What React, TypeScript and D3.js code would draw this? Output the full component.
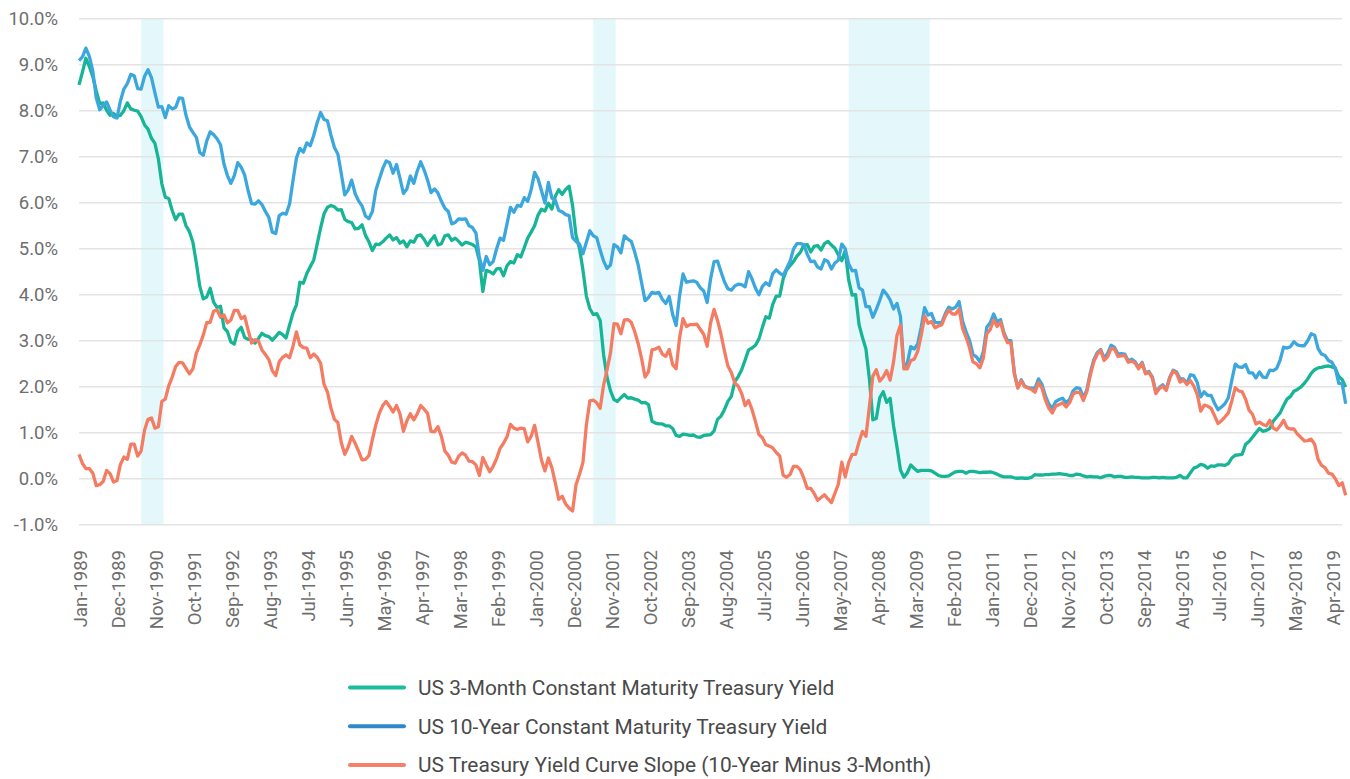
import React, { useRef, useEffect } from 'react';
import * as d3 from 'd3';

// Monthly averages, Jan-1989 .. Aug-2019
const threeMonthYield: number[] = [
    8.56, 8.84, 9.14, 8.96, 8.74, 8.43, 8.15, 8.17, 8.01, 7.90, 7.94, 7.88,
    7.90, 8.00, 8.17, 8.04, 8.01, 7.99, 7.87, 7.69, 7.60, 7.40, 7.29, 6.95,
    6.41, 6.12, 6.09, 5.83, 5.63, 5.75, 5.75, 5.50, 5.37, 5.14, 4.69, 4.18,
    3.91, 3.95, 4.14, 3.84, 3.72, 3.75, 3.28, 3.20, 2.97, 2.93, 3.21, 3.29,
    3.07, 3.03, 3.03, 2.95, 3.05, 3.16, 3.11, 3.09, 3.01, 3.09, 3.18, 3.13,
    3.06, 3.34, 3.60, 3.78, 4.27, 4.25, 4.46, 4.61, 4.75, 5.10, 5.45, 5.76,
    5.90, 5.94, 5.91, 5.84, 5.85, 5.64, 5.59, 5.57, 5.43, 5.44, 5.52, 5.29,
    5.15, 4.96, 5.10, 5.09, 5.15, 5.23, 5.30, 5.19, 5.24, 5.12, 5.17, 5.04,
    5.17, 5.14, 5.28, 5.30, 5.20, 5.07, 5.19, 5.28, 5.08, 5.11, 5.28, 5.30,
    5.18, 5.23, 5.16, 5.08, 5.14, 5.12, 5.09, 5.04, 4.74, 4.07, 4.53, 4.50,
    4.45, 4.56, 4.57, 4.41, 4.63, 4.72, 4.69, 4.87, 4.82, 5.02, 5.23, 5.36,
    5.50, 5.73, 5.86, 5.82, 5.99, 5.86, 6.14, 6.28, 6.18, 6.29, 6.36, 5.94,
    5.29, 5.01, 4.54, 3.97, 3.70, 3.57, 3.59, 3.44, 2.69, 2.20, 1.91, 1.72,
    1.68, 1.76, 1.83, 1.75, 1.76, 1.73, 1.71, 1.65, 1.66, 1.61, 1.25, 1.21,
    1.19, 1.19, 1.15, 1.15, 1.09, 0.94, 0.92, 0.97, 0.96, 0.94, 0.95, 0.91,
    0.90, 0.94, 0.95, 0.96, 1.04, 1.29, 1.36, 1.50, 1.68, 1.79, 2.11, 2.22,
    2.37, 2.58, 2.80, 2.84, 2.90, 3.04, 3.29, 3.52, 3.49, 3.79, 3.97, 3.97,
    4.34, 4.54, 4.63, 4.72, 4.84, 4.92, 5.08, 5.09, 4.93, 5.05, 5.07, 4.97,
    5.11, 5.16, 5.08, 5.01, 4.87, 4.74, 4.96, 4.32, 3.99, 4.00, 3.35, 3.07,
    2.82, 2.17, 1.28, 1.31, 1.76, 1.89, 1.66, 1.75, 1.15, 0.69, 0.19, 0.03,
    0.13, 0.30, 0.22, 0.16, 0.18, 0.18, 0.18, 0.17, 0.12, 0.07, 0.05, 0.05,
    0.06, 0.11, 0.15, 0.16, 0.16, 0.12, 0.16, 0.16, 0.15, 0.13, 0.14, 0.14,
    0.15, 0.13, 0.10, 0.06, 0.04, 0.04, 0.04, 0.02, 0.01, 0.02, 0.01, 0.01,
    0.03, 0.09, 0.08, 0.08, 0.09, 0.09, 0.10, 0.10, 0.11, 0.10, 0.09, 0.07,
    0.07, 0.10, 0.09, 0.06, 0.04, 0.05, 0.04, 0.04, 0.02, 0.05, 0.07, 0.07,
    0.04, 0.05, 0.05, 0.03, 0.03, 0.04, 0.03, 0.03, 0.02, 0.02, 0.02, 0.03,
    0.03, 0.02, 0.03, 0.02, 0.02, 0.02, 0.03, 0.07, 0.02, 0.02, 0.13, 0.23,
    0.26, 0.31, 0.29, 0.23, 0.28, 0.27, 0.30, 0.30, 0.29, 0.33, 0.45, 0.51,
    0.52, 0.53, 0.75, 0.81, 0.90, 1.00, 1.09, 1.03, 1.05, 1.09, 1.25, 1.34,
    1.43, 1.59, 1.73, 1.79, 1.90, 1.94, 1.99, 2.07, 2.17, 2.29, 2.37, 2.41,
    2.42, 2.44, 2.45, 2.43, 2.40, 2.22, 2.15, 1.99,
];

const tenYearYield: number[] = [
    9.09, 9.17, 9.36, 9.18, 8.86, 8.28, 8.02, 8.11, 8.19, 8.01, 7.87, 7.84,
    8.21, 8.47, 8.59, 8.79, 8.76, 8.48, 8.47, 8.75, 8.89, 8.72, 8.39, 8.08,
    8.09, 7.85, 8.11, 8.04, 8.07, 8.28, 8.27, 7.90, 7.65, 7.53, 7.42, 7.09,
    7.03, 7.34, 7.54, 7.48, 7.39, 7.26, 6.84, 6.59, 6.42, 6.59, 6.87, 6.77,
    6.60, 6.26, 5.98, 5.97, 6.04, 5.96, 5.81, 5.68, 5.36, 5.33, 5.72, 5.77,
    5.75, 5.97, 6.48, 6.97, 7.18, 7.10, 7.30, 7.24, 7.46, 7.74, 7.96, 7.81,
    7.78, 7.47, 7.20, 7.06, 6.63, 6.17, 6.28, 6.49, 6.20, 6.04, 5.93, 5.71,
    5.65, 5.81, 6.27, 6.51, 6.74, 6.91, 6.87, 6.64, 6.83, 6.53, 6.20, 6.30,
    6.58, 6.42, 6.69, 6.89, 6.71, 6.49, 6.22, 6.30, 6.21, 6.03, 5.88, 5.81,
    5.54, 5.57, 5.65, 5.64, 5.65, 5.50, 5.46, 5.34, 4.81, 4.53, 4.83, 4.65,
    4.72, 5.00, 5.23, 5.18, 5.54, 5.90, 5.79, 5.94, 5.92, 6.11, 6.03, 6.28,
    6.66, 6.52, 6.26, 5.99, 6.44, 6.10, 6.05, 5.83, 5.80, 5.74, 5.72, 5.24,
    5.16, 5.10, 4.89, 5.14, 5.39, 5.28, 5.24, 4.97, 4.73, 4.57, 4.65, 5.09,
    5.04, 4.91, 5.28, 5.21, 5.16, 4.93, 4.65, 4.26, 3.87, 3.94, 4.05, 4.03,
    4.05, 3.90, 3.81, 3.96, 3.57, 3.33, 3.98, 4.45, 4.27, 4.29, 4.30, 4.27,
    4.15, 4.08, 3.83, 4.35, 4.72, 4.73, 4.50, 4.28, 4.13, 4.10, 4.19, 4.23,
    4.22, 4.17, 4.50, 4.34, 4.14, 4.00, 4.18, 4.26, 4.20, 4.46, 4.54, 4.47,
    4.42, 4.57, 4.72, 4.99, 5.11, 5.11, 5.09, 4.88, 4.72, 4.73, 4.60, 4.56,
    4.76, 4.72, 4.56, 4.69, 4.75, 5.10, 5.00, 4.67, 4.52, 4.53, 4.15, 4.10,
    3.74, 3.74, 3.51, 3.68, 3.88, 4.10, 4.01, 3.89, 3.69, 3.81, 3.53, 2.42,
    2.52, 2.87, 2.82, 2.93, 3.29, 3.72, 3.56, 3.59, 3.40, 3.39, 3.40, 3.59,
    3.73, 3.69, 3.73, 3.85, 3.42, 3.20, 3.01, 2.70, 2.65, 2.54, 2.76, 3.29,
    3.39, 3.58, 3.41, 3.46, 3.17, 3.00, 3.00, 2.30, 1.98, 2.15, 2.01, 1.98,
    1.97, 1.97, 2.17, 2.05, 1.80, 1.62, 1.53, 1.68, 1.72, 1.75, 1.65, 1.72,
    1.91, 1.98, 1.96, 1.76, 1.93, 2.30, 2.58, 2.74, 2.81, 2.62, 2.72, 2.90,
    2.86, 2.71, 2.72, 2.71, 2.56, 2.60, 2.54, 2.42, 2.53, 2.30, 2.33, 2.21,
    1.88, 1.98, 2.04, 1.94, 2.20, 2.36, 2.32, 2.17, 2.17, 2.07, 2.26, 2.24,
    2.09, 1.78, 1.89, 1.81, 1.81, 1.64, 1.50, 1.56, 1.63, 1.76, 2.14, 2.49,
    2.43, 2.42, 2.48, 2.30, 2.30, 2.19, 2.32, 2.21, 2.20, 2.36, 2.35, 2.40,
    2.58, 2.86, 2.84, 2.87, 2.98, 2.91, 2.89, 2.89, 3.00, 3.15, 3.12, 2.83,
    2.71, 2.68, 2.57, 2.53, 2.40, 2.07, 2.06, 1.63,
];

// slope is by definition 10Y minus 3M
const slope: number[] = tenYearYield.map((v, i) => +(v - threeMonthYield[i]).toFixed(2));

const fmtMonth = d3.timeFormat('%b-%Y');
const months: string[] = d3.timeMonth
    .range(new Date(1989, 0, 1), new Date(1989, threeMonthYield.length, 1))
    .map(d => fmtMonth(d));

const yTicks: number[] = [-1, 0, 1, 2, 3, 4, 5, 6, 7, 8, 9, 10];
const tickEvery = 11;

const recessions = [
    { start: 'Jul-1990', end: 'Jan-1991' },
    { start: 'Jun-2001', end: 'Dec-2001' },
    { start: 'Aug-2007', end: 'Jul-2009' },
];

const series = [
    { name: 'US 3-Month Constant Maturity Treasury Yield', values: threeMonthYield, color: '#17b596', legend: '#1dbd9c' },
    { name: 'US 10-Year Constant Maturity Treasury Yield', values: tenYearYield, color: '#3ca7dd', legend: '#2f88ca' },
    { name: 'US Treasury Yield Curve Slope (10-Year Minus 3-Month)', values: slope, color: '#f47c63', legend: '#f4816a' },
];

const App: React.FC = () => {
    const svgRef = useRef<SVGSVGElement>(null);

    useEffect(() => {
        const W = 1350;
        const H = 779;
        const left = 79;
        const gridRight = 1342;

        const x = d3.scaleLinear().domain([0, months.length - 1]).range([left, 1345.7]);
        const y = d3.scaleLinear().domain([-1, 10]).range([524.7, 18.7]);

        const svg = d3.select(svgRef.current);
        svg.selectAll('*').remove();
        svg.attr('width', W).attr('height', H).style('font-family', 'Roboto, sans-serif');

        svg.append('rect').attr('width', W).attr('height', H).attr('fill', '#ffffff');

        // recession shading
        const step = x(1) - x(0);
        svg.append('g')
            .selectAll('rect')
            .data(recessions)
            .join('rect')
            .attr('x', d => x(months.indexOf(d.start)))
            .attr('width', d => x(months.indexOf(d.end)) + step / 2 - x(months.indexOf(d.start)))
            .attr('y', y(10))
            .attr('height', y(-1) - y(10))
            .attr('fill', '#e4f8fc');

        // gridlines
        svg.append('g')
            .selectAll('line')
            .data(yTicks)
            .join('line')
            .attr('x1', left)
            .attr('x2', gridRight)
            .attr('y1', d => y(d))
            .attr('y2', d => y(d))
            .attr('stroke', '#e3e3e3')
            .attr('stroke-width', 1.5);

        // y labels
        svg.append('g')
            .selectAll('text')
            .data(yTicks)
            .join('text')
            .attr('x', 58)
            .attr('y', d => y(d))
            .attr('dy', '0.35em')
            .attr('text-anchor', 'end')
            .attr('fill', '#6e6e6e')
            .style('font-size', '18.5px')
            .text(d => `${d.toFixed(1)}%`);

        // x labels, every 11 months
        const tickIdx = d3.range(0, months.length, tickEvery);
        svg.append('g')
            .selectAll('text')
            .data(tickIdx)
            .join('text')
            .attr('transform', i => `translate(${x(i) + 2},550) rotate(-90)`)
            .attr('dy', '0.35em')
            .attr('text-anchor', 'end')
            .attr('fill', '#6e6e6e')
            .style('font-size', '18.5px')
            .text(i => months[i]);

        // lines
        const line = d3.line<number>()
            .x((_, i) => x(i))
            .y(d => y(d));

        series.forEach(s => {
            svg.append('path')
                .datum(s.values)
                .attr('fill', 'none')
                .attr('stroke', s.color)
                .attr('stroke-width', 3.3)
                .attr('stroke-linejoin', 'round')
                .attr('d', line);
        });

        // legend
        const legend = svg.append('g');
        series.forEach((s, i) => {
            const ly = 687.5 + i * 38.8;
            legend.append('line')
                .attr('x1', 350).attr('x2', 404)
                .attr('y1', ly).attr('y2', ly)
                .attr('stroke', s.legend)
                .attr('stroke-width', 4)
                .attr('stroke-linecap', 'round');
            legend.append('text')
                .attr('x', 418)
                .attr('y', ly)
                .attr('dy', '0.35em')
                .attr('fill', '#4a4a4a')
                .style('font-size', '20.9px')
                .text(s.name);
        });
    }, []);

    return (
        <div style={{ position: 'absolute', left: 0, top: 0 }}>
            <svg ref={svgRef} />
        </div>
    );
};

export default App;
